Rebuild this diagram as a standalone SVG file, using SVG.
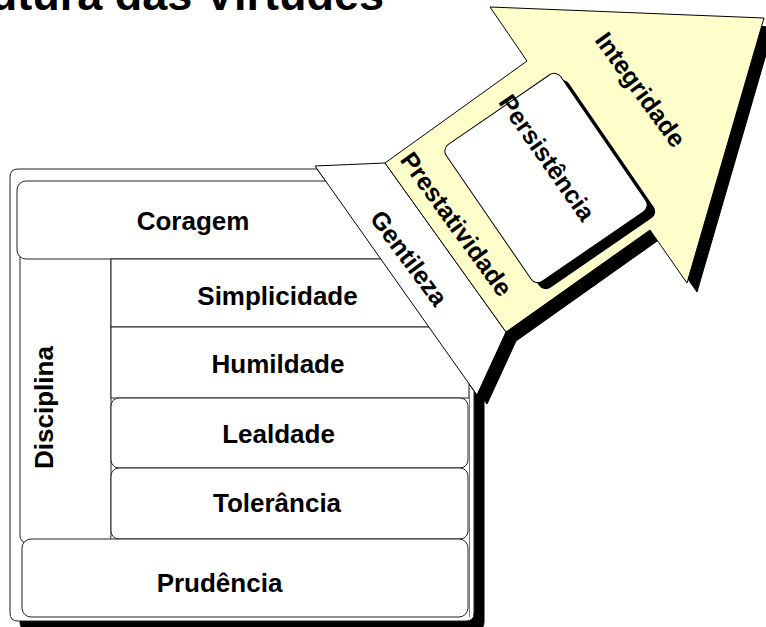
<svg xmlns="http://www.w3.org/2000/svg" width="766" height="627" viewBox="0 0 766 627">
<style>
.t{font-family:"Liberation Sans",Arial,sans-serif;font-weight:bold;font-size:26px;fill:#000;text-anchor:middle}
.r{font-size:25px}
.box{fill:#fff;stroke:#222;stroke-width:1}
.yel{fill:#FFFFCC;stroke:#000;stroke-width:1;stroke-linejoin:miter}
.sh{fill:#000;stroke:#000;stroke-width:1}
</style>
<rect x="0" y="0" width="766" height="627" fill="#fff"/>
<text class="t" x="384" y="9.5" style="font-size:45px;text-anchor:end">Estrutura das Virtudes</text>

<g id="shadow" transform="translate(10,9)">
  <path class="sh" d="M317,169 L18,169 Q10,169 10,177 L10,613 Q10,621 18,621 L466,621 Q474,621 474,613 L474,391 Z"/>
  <polygon class="sh" points="315,166 385,163 506,332 477,395"/>
  <polygon class="sh" points="385,163 527,61 490,7 764,18 687,283 650,230 506,332"/>
</g>

<g id="frame">
  <path class="box" d="M317,169 L18,169 Q10,169 10,177 L10,613 Q10,621 18,621 L466,621 Q474,621 474,613 L474,391 Z" stroke="#333"/>
</g>

<g id="disciplina">
  <rect class="box" x="20" y="250" width="91" height="293" rx="7"/>
  <text class="t" transform="translate(53,407.5) rotate(-90)">Disciplina</text>
</g>
<g id="coragem">
  <rect class="box" x="17" y="181" width="430" height="78" rx="9"/>
  <text class="t" x="193" y="230">Coragem</text>
</g>
<g id="simplicidade">
  <rect class="box" x="111" y="259" width="358" height="68"/>
  <text class="t" x="277.5" y="305">Simplicidade</text>
</g>
<g id="humildade">
  <rect class="box" x="111" y="327" width="358" height="71"/>
  <text class="t" x="278" y="373">Humildade</text>
</g>
<line x1="469.5" y1="388" x2="469.5" y2="617" stroke="#777" stroke-width="1"/>
<g id="lealdade">
  <rect class="box" x="111" y="398" width="357" height="70" rx="8" stroke="#555"/>
  <text class="t" x="278.5" y="443">Lealdade</text>
</g>
<g id="tolerancia">
  <rect class="box" x="111" y="468" width="357" height="71" rx="8"/>
  <text class="t" x="277" y="512">Tolerância</text>
</g>
<g id="prudencia">
  <rect class="box" x="22" y="539" width="446" height="78" rx="9"/>
  <text class="t" x="219.5" y="592">Prudência</text>
</g>

<g id="gentileza">
  <polygon points="315,166 385,163 506,332 477,395" fill="#fff" stroke="#000" stroke-width="1"/>
  <text class="t r" transform="translate(408.5,258.5) rotate(53.5)" y="8">Gentileza</text>
</g>

<g id="integridade">
  <polygon class="yel" points="385,163 527,61 490,7 764,18 687,283 650,230 506,332"/>
  <text class="t r" transform="translate(640,90) rotate(54)" y="8">Integridade</text>
</g>

<g id="prestatividade">
  <text class="t r" transform="translate(456,224.5) rotate(54)" y="8">Prestatividade</text>
</g>

<g id="persistencia">
  <rect x="-83" y="-69.5" width="166" height="139" rx="8" fill="#000" transform="translate(554,184.5) rotate(55.5)"/>
  <rect x="-83" y="-69.5" width="166" height="139" rx="8" fill="#fff" stroke="#000" stroke-width="1" transform="translate(546,178) rotate(55.5)"/>
  <text class="t r" transform="translate(546.5,158) rotate(55)" y="8">Persistência</text>
</g>

<g id="connectors"></g>
</svg>
